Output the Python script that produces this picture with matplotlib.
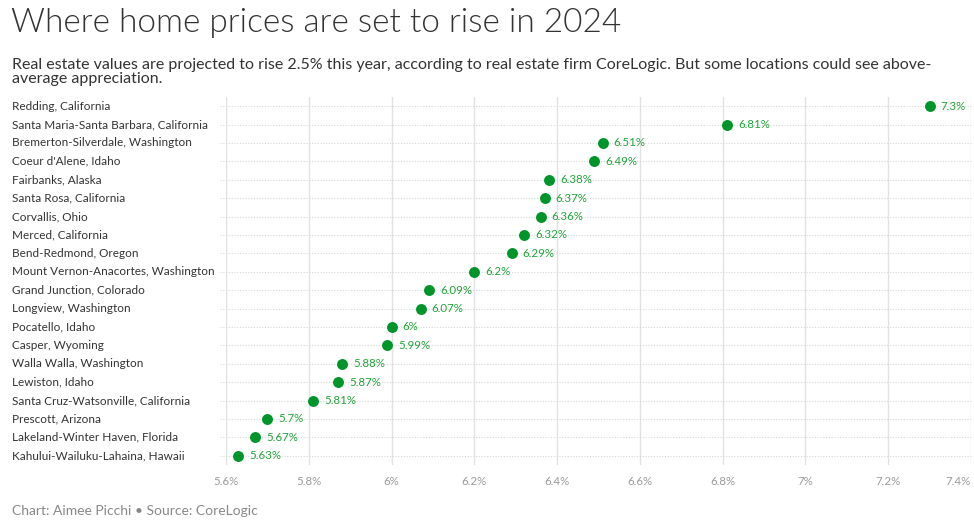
import matplotlib
matplotlib.use("Agg")
import matplotlib.pyplot as plt
from matplotlib.transforms import blended_transform_factory

# data
metros = [
    "Redding, California",
    "Santa Maria-Santa Barbara, California",
    "Bremerton-Silverdale, Washington",
    "Coeur d'Alene, Idaho",
    "Fairbanks, Alaska",
    "Santa Rosa, California",
    "Corvallis, Ohio",
    "Merced, California",
    "Bend-Redmond, Oregon",
    "Mount Vernon-Anacortes, Washington",
    "Grand Junction, Colorado",
    "Longview, Washington",
    "Pocatello, Idaho",
    "Casper, Wyoming",
    "Walla Walla, Washington",
    "Lewiston, Idaho",
    "Santa Cruz-Watsonville, California",
    "Prescott, Arizona",
    "Lakeland-Winter Haven, Florida",
    "Kahului-Wailuku-Lahaina, Hawaii",
]
growth = [7.3, 6.81, 6.51, 6.49, 6.38, 6.37, 6.36, 6.32, 6.29, 6.2,
          6.09, 6.07, 6.0, 5.99, 5.88, 5.87, 5.81, 5.7, 5.67, 5.63]
x_ticks = [5.6, 5.8, 6.0, 6.2, 6.4, 6.6, 6.8, 7.0, 7.2, 7.4]

plt.rcParams["font.family"] = ["Lato", "DejaVu Sans"]

W, H = 974, 531
fig = plt.figure(figsize=(W / 100, H / 100), dpi=100)
ax = fig.add_axes([226 / W, 1 - 465 / H, (971 - 226) / W, (465 - 97) / H])

rows = list(range(len(metros)))

# dotted row guides, starting a little left of the plot
ax.hlines(rows, -0.008, 1, transform=ax.get_yaxis_transform(),
          colors="#d6d6d6", linestyles=(0, (1, 1.5)), linewidth=0.8,
          clip_on=False, zorder=1)

ax.scatter(growth, rows, s=62, color="#00952a", zorder=3, linewidths=0)
for v, r in zip(growth, rows):
    ax.annotate(f"{v:g}%", (v, r), xytext=(8, 0), textcoords="offset points",
                va="center", ha="left", fontsize=8.3, color="#22a23a")

ax.set_xlim(5.6, 7.4)
ax.set_ylim(len(metros) - 0.5, -0.5)
ax.set_xticks(x_ticks)
ax.set_xticklabels([f"{t:g}%" for t in x_ticks])
ax.get_xticklabels()[-1].set_ha("right")
ax.grid(axis="x", color="#e2e2e2", linewidth=1)
ax.set_axisbelow(True)
for s in ax.spines.values():
    s.set_visible(False)
ax.tick_params(axis="x", length=0, labelsize=8.3, labelcolor="#9a9a9a", pad=8)
ax.tick_params(axis="y", length=0)
ax.set_yticks(rows)
ax.set_yticklabels([])

lbl_tr = blended_transform_factory(fig.transFigure, ax.transData)
for m, r in zip(metros, rows):
    ax.text(12 / W, r, m, transform=lbl_tr, fontsize=8.5, color="#333333",
            va="center", ha="left")

fig.text(11 / W, 1 - 23 / H, "Where home prices are set to rise in 2024",
         fontsize=24, fontweight=300, color="#333333", va="center", ha="left")
fig.text(12 / W, 1 - 72 / H,
         "Real estate values are projected to rise 2.5% this year, according to real estate firm CoreLogic. But some locations could see above-\naverage appreciation.",
         fontsize=11.5, color="#333333", va="center", ha="left", linespacing=1.0)
fig.text(12 / W, 1 - 511 / H, "Chart: Aimee Picchi \u2022 Source: CoreLogic",
         fontsize=10, color="#888888", va="center", ha="left")

fig.savefig("out.png", dpi=100)
